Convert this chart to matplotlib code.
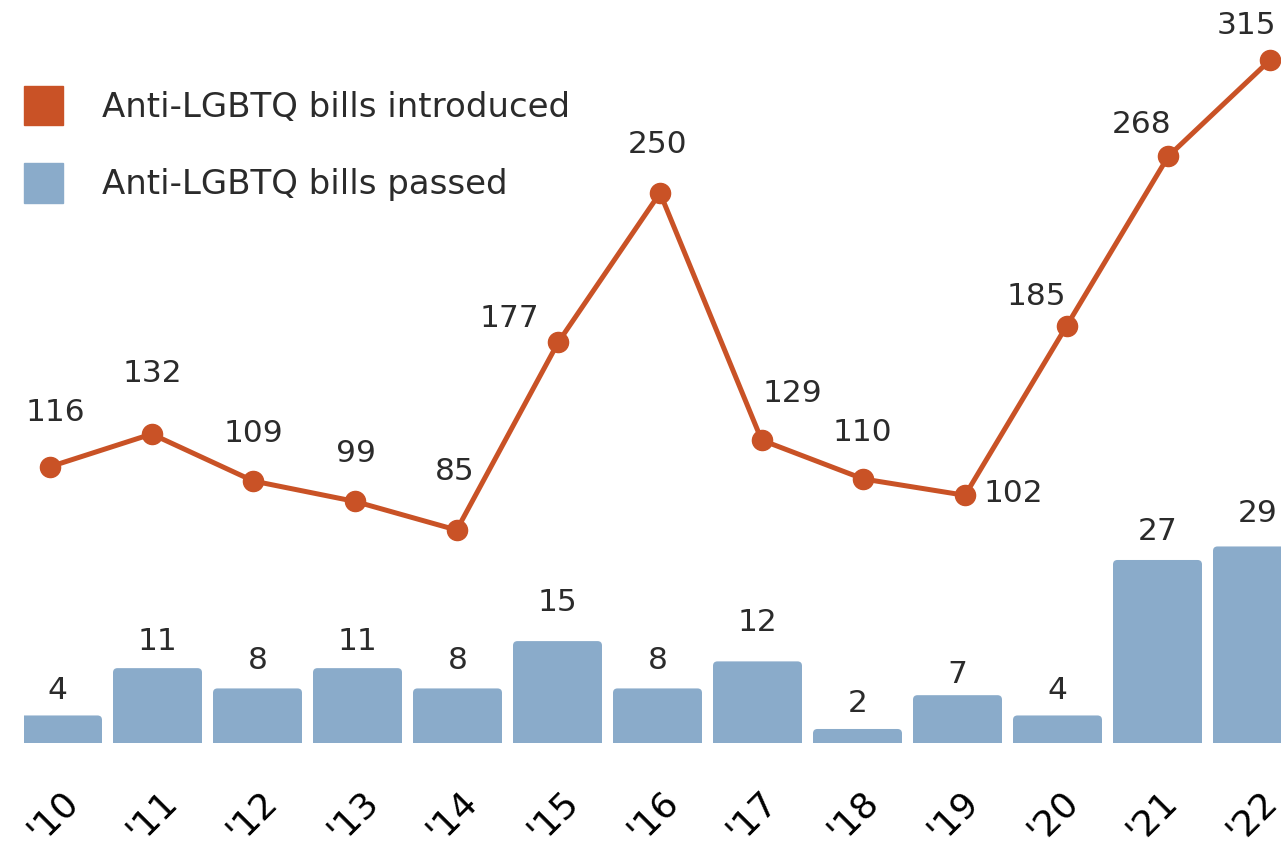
import matplotlib.pyplot as plt
from matplotlib.patches import FancyBboxPatch, Patch
from matplotlib.transforms import ScaledTranslation

years = ["'10", "'11", "'12", "'13", "'14", "'15", "'16", "'17", "'18", "'19", "'20", "'21", "'22"]
introduced = [116, 132, 109, 99, 85, 177, 250, 129, 110, 102, 185, 268, 315]
passed = [4, 11, 8, 11, 8, 15, 8, 12, 2, 7, 4, 27, 29]

# label offsets in pixels (dx, dy) from each point
line_offsets = [(5, 54), (1, 61), (0, 48), (1, 48), (-2, 59), (-49, 24), (-2, 48),
                (31, 47), (-1, 46), (48, 2), (-30, 29), (-27, 32), (-24, 35)]
bar_offsets = [25, 27, 28, 27, 28, 39, 28, 39, 25, 21, 25, 28, 33]

orange = "#C95226"
blue = "#8AABCA"
txt = "#2b2b2b"
W, H = 1281, 847

fig = plt.figure(figsize=(W / 100, H / 100), dpi=100)
ax_bottom = 770
pos = [24 / W, (H - ax_bottom) / H, (W - 24) / W, ax_bottom / H]
ax = fig.add_axes(pos)
ax2 = fig.add_axes(pos)
ax2.patch.set_visible(False)

# bar axis: center of bar 0 at 57.5px, 100px pitch; baseline at 742.5px, 6.76 px per bill
ax.set_xlim((24 - 57.5) / 100, (W - 57.5) / 100)
ax.set_ylim((742.5 - ax_bottom) / 6.76, 742.5 / 6.76)
# line axis: point 0 at 50px, 101.67px pitch; zero at 703.7px, 2.043 px per bill
ax2.set_xlim((24 - 50) / 101.67, (W - 50) / 101.67)
ax2.set_ylim((703.7 - ax_bottom) / 2.043, 703.7 / 2.043)

x = list(range(len(years)))
width = 0.89
r = 0.045
aspect = 100 / 6.76
for i, v in zip(x, passed):
    ax.bar(i, max(v - r * aspect, 0), width=width, color=blue, linewidth=0)
    ax.add_patch(FancyBboxPatch((i - width / 2, 0), width, v,
                                boxstyle=f"round,pad=0,rounding_size={r}",
                                mutation_aspect=aspect, color=blue, linewidth=0))
    ax.annotate(str(v), (i, v), xytext=(0, bar_offsets[i]), textcoords="offset pixels",
                ha="center", va="center", fontsize=22.5, color=txt)

ax2.plot(x, introduced, color=orange, lw=3.6, marker="o", markersize=14.5, zorder=3)
for i, v in enumerate(introduced):
    dx, dy = line_offsets[i]
    ax2.annotate(str(v), (i, v), xytext=(dx, dy), textcoords="offset pixels",
                 ha="center", va="center", fontsize=22.5, color=txt)

for a in (ax, ax2):
    for s in a.spines.values():
        s.set_visible(False)
ax2.set_xticks([])
ax2.set_yticks([])
ax.set_yticks([])
ax.set_xticks(x)
ax.set_xticklabels(years, rotation=45, fontsize=26, color="black")
ax.tick_params(axis="x", length=0, pad=10)
for lab in ax.get_xticklabels():
    lab.set_transform(lab.get_transform() + ScaledTranslation(-5 / 100, 0, fig.dpi_scale_trans))

handles = [Patch(color=orange, label="Anti-LGBTQ bills introduced"),
           Patch(color=blue, label="Anti-LGBTQ bills passed")]
fs = 24.5
em = fs / 72 * 100
fig.legend(handles=handles, loc="upper left", bbox_to_anchor=(24 / W, 1 - 86 / H),
           frameon=False, fontsize=fs, labelcolor=txt,
           handlelength=39 / em, handleheight=1.388, handletextpad=39 / em,
           labelspacing=1.13, borderpad=0, borderaxespad=0)

fig.savefig("out.png", dpi=100)
